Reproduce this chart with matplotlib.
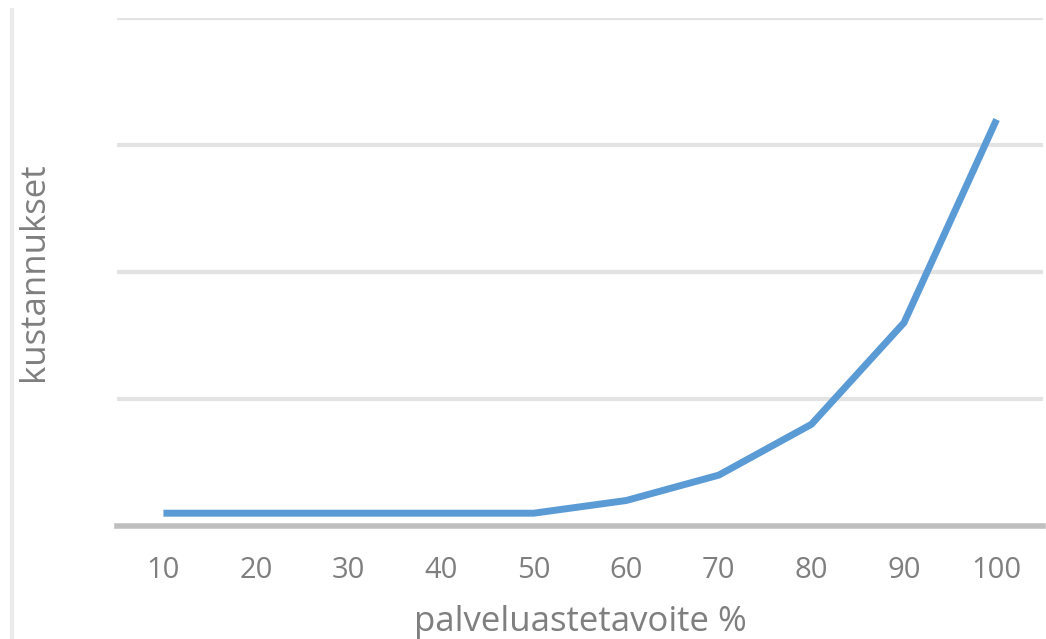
import matplotlib
matplotlib.use("Agg")
import matplotlib.pyplot as plt
from matplotlib.lines import Line2D

# service level target (%) vs. relative cost
palvelutaso = [10, 20, 30, 40, 50, 60, 70, 80, 90, 100]
kustannukset = [0.1, 0.1, 0.1, 0.1, 0.1, 0.2, 0.4, 0.8, 1.6, 3.2]

plt.rcParams['font.family'] = ['Open Sans', 'DejaVu Sans']
text_color = '#7f7f7f'

fig = plt.figure(figsize=(10.46, 6.39), dpi=100)
ax = fig.add_axes([0.112, 0.177, 0.885, 0.795])

ax.plot(palvelutaso, kustannukset, color='#5b9bd5', linewidth=5,
        solid_capstyle='butt', solid_joinstyle='round', zorder=3)

ax.set_xlim(5, 105)
ax.set_ylim(0, 4)
ax.set_xticks(palvelutaso)
ax.set_xticklabels([str(v) for v in palvelutaso])
ax.set_yticks([1, 2, 3, 4])
ax.set_yticklabels([])
ax.yaxis.grid(True, color='#e3e3e3', linewidth=3)
ax.set_axisbelow(True)
ax.tick_params(axis='both', length=0, labelsize=21, labelcolor=text_color, pad=22)

for side in ('top', 'right', 'left'):
    ax.spines[side].set_visible(False)
ax.spines['bottom'].set_color('#bfbfbf')
ax.spines['bottom'].set_linewidth(4)

ax.set_xlabel('palveluastetavoite %', fontsize=25, color=text_color, labelpad=14)
ax.set_ylabel('kustannukset', fontsize=25, color=text_color, va='center')
ax.yaxis.set_label_coords(-0.09, 0.5)

# thin border line at the left edge of the figure
fig.add_artist(Line2D([0.0115, 0.0115], [0.0, 0.985], transform=fig.transFigure,
                      color='#ebebeb', linewidth=3))

fig.savefig('out.png', dpi=100, facecolor='white')
